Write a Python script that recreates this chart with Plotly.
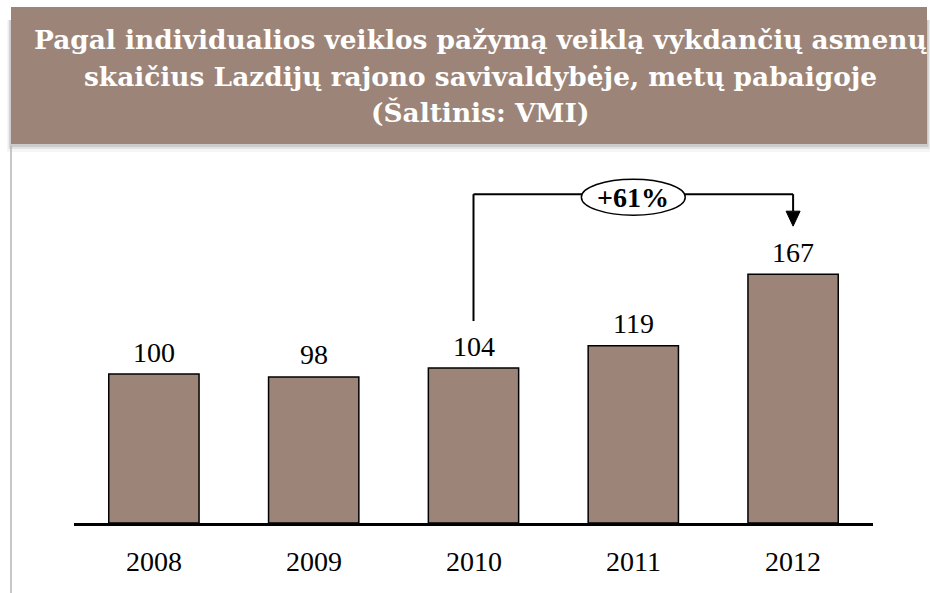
import plotly.graph_objects as go

years = ["2008", "2009", "2010", "2011", "2012"]
values = [100, 98, 104, 119, 167]
change_label = "+61%"
title_lines = [
    "Pagal individualios veiklos pažymą veiklą vykdančių asmenų",
    "skaičius Lazdijų rajono savivaldybėje, metų pabaigoje",
    "(Šaltinis: VMI)",
]

W, H = 930, 593
L, R, T, B = 74, 57, 160, 70
PW, PH = W - L - R, H - T - B
YMAX = PH / 1.49
BAR = "#9c8578"


def xp(px):
    return (px - L) / PW


def yp(py):
    return (H - B - py) / PH


def dy(pixels):
    return pixels * YMAX / PH


idx = list(range(len(years)))
fig = go.Figure(go.Bar(
    x=idx, y=values, marker=dict(color=BAR, line=dict(color="black", width=1.5)),
    width=0.565, hoverinfo="skip"))

shapes = []
# title box shadow + box
for k, a in [(8, 0.04), (5, 0.07), (3, 0.10)]:
    shapes.append(dict(type="rect", xref="paper", yref="paper", x0=xp(11 - k / 2), x1=xp(927 + k / 2),
                       y0=yp(144 + k), y1=yp(20), fillcolor=f"rgba(0,0,0,{a})", line=dict(width=0), layer="below"))
shapes.append(dict(type="rect", xref="paper", yref="paper", x0=xp(11), x1=xp(927),
                   y0=yp(144), y1=yp(7), fillcolor=BAR, line=dict(width=0), layer="below"))
# left page edge line
shapes.append(dict(type="line", xref="paper", yref="paper", x0=xp(11), x1=xp(11),
                   y0=yp(146), y1=yp(600), line=dict(color="#b4b4b4", width=1.5)))

# bracket showing change from 2010 to 2012
i0, i1 = 2, 4
top = max(values) + dy(80)
bottom = values[i0] + dy(47)
tip = values[i1] + dy(48)
head = dy(15)
hw = 7 / (PW / len(years))
shapes += [
    dict(type="line", x0=i0, x1=i0, y0=bottom, y1=top, line=dict(color="black", width=2)),
    dict(type="line", x0=i0, x1=i1, y0=top, y1=top, line=dict(color="black", width=2)),
    dict(type="line", x0=i1, x1=i1, y0=top, y1=tip + head, line=dict(color="black", width=2)),
    dict(type="path", path=f"M {i1 - hw} {tip + head} L {i1 + hw} {tip + head} L {i1} {tip} Z",
         fillcolor="black", line=dict(color="black", width=1)),
]
mid = (i0 + i1) / 2
shapes.append(dict(type="circle", x0=mid - 0.325, x1=mid + 0.325, y0=top - dy(21), y1=top + dy(15),
                   fillcolor="white", line=dict(color="black", width=1.5)))

annotations = []
for j, line in enumerate(title_lines):
    annotations.append(dict(xref="paper", yref="paper", x=xp(480), y=yp([39, 76, 112][j]),
                            xanchor="center", yanchor="middle",
                            text=f"<b>{line}</b>", showarrow=False,
                            font=dict(family="DejaVu Serif", size=26.4, color="white")))
for i, v in zip(idx, values):
    annotations.append(dict(x=i, y=v, text=str(v), showarrow=False, yanchor="middle", yshift=22,
                            font=dict(family="Liberation Serif", size=28, color="black")))
    annotations.append(dict(x=i, y=0, text=years[i], showarrow=False, yanchor="middle", yshift=-38,
                            font=dict(family="Liberation Serif", size=28, color="black")))
annotations.append(dict(x=mid, y=top, text=f"<b>{change_label}</b>", showarrow=False,
                        yanchor="middle", yshift=-3,
                        font=dict(family="Liberation Serif", size=28, color="black")))

fig.update_layout(
    width=W, height=H, margin=dict(l=L, r=R, t=T, b=B),
    paper_bgcolor="white", plot_bgcolor="white", showlegend=False,
    shapes=shapes, annotations=annotations,
    xaxis=dict(range=[-0.5, len(years) - 0.5], showticklabels=False, showgrid=False, zeroline=False,
               showline=True, linecolor="black", linewidth=2.5, ticks=""),
    yaxis=dict(range=[0, YMAX], visible=False),
)
fig.write_html("out.html", config={"displayModeBar": False},
               post_script="document.body.style.margin='0';document.body.style.overflow='hidden';")
